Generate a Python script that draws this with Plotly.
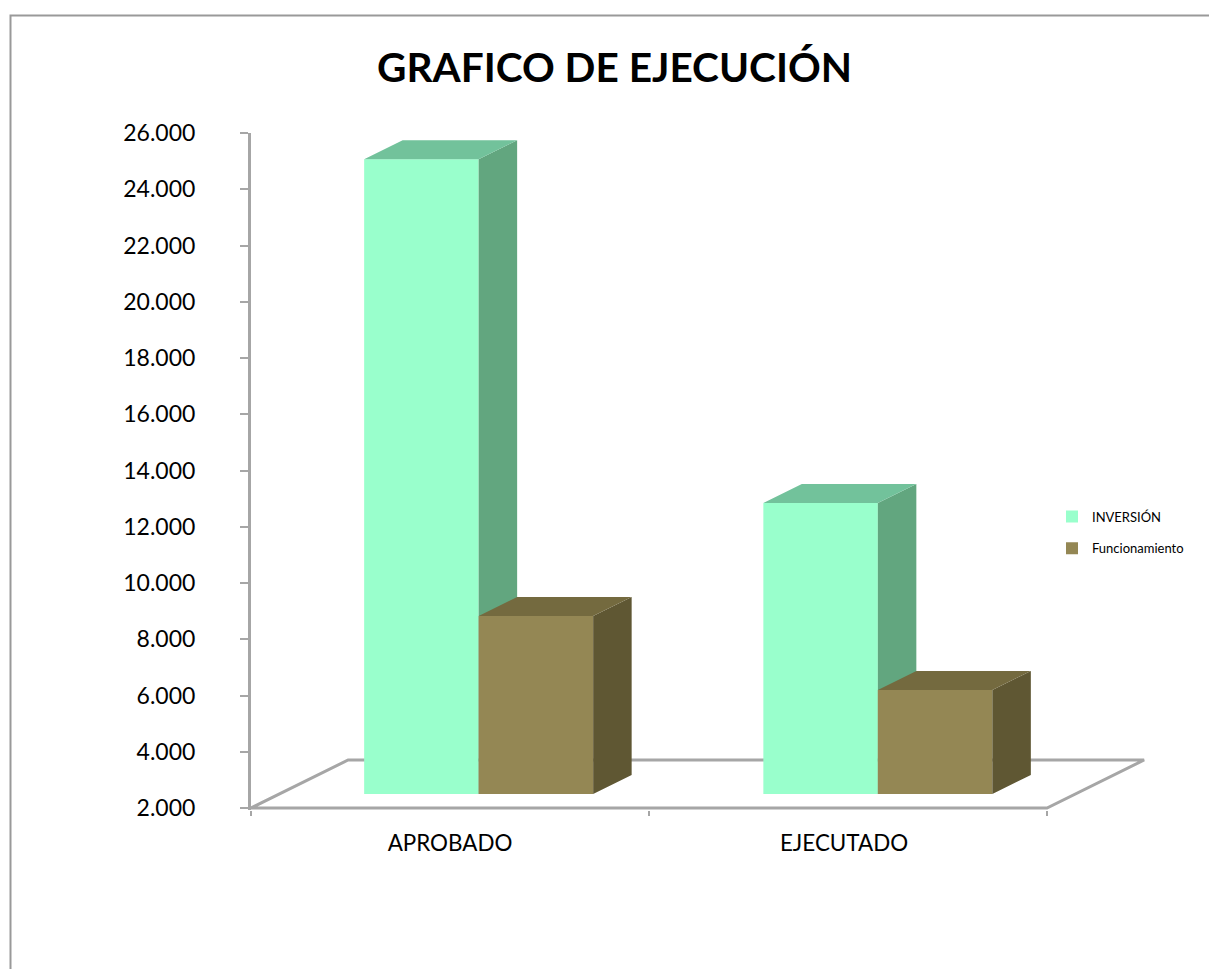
import plotly.graph_objects as go

# --- data ---
CATEGORIES = ["APROBADO", "EJECUTADO"]
BAR_CENTERS = [0.5, 1.503]
LABEL_POSITIONS = [0.5, 1.49]
INVERSION = [24570, 12346]
FUNCIONAMIENTO = [8329, 5698]
Y_TICKS = list(range(2000, 26001, 2000))
TITLE = "GRAFICO DE EJECUCIÓN"

# --- geometry in axis units ---
W, H = 1209, 969
AX_L, AX_R, AX_T, AX_B = 251, 1150, 133, 808
PX_PER_CAT = 398
Y_MIN, Y_MAX = 2000, 26000
Y_PX = (AX_B - AX_T) / (Y_MAX - Y_MIN)
Y_LOW = Y_MIN - 80  # keeps the floor's front edge from being clipped by the plot area
BASE = 2498
BAR_W = 0.2877
SHIFT = 0.072
DX, DY = 0.0967, 676
FLOOR_DX, FLOOR_DY = 0.244, 1707
GRAY = "#A6A6A6"
FONT = "Lato"


def faces(xs, values, left_offset):
    side_x, side_y, top_x, top_y = [], [], [], []
    for c, v in zip(xs, values):
        xl = c + left_offset
        xr = xl + BAR_W
        top = BASE + (v - Y_MIN)
        side_x += [xr, xr + DX, xr + DX, xr, xr, None]
        side_y += [BASE, BASE + DY, top + DY, top, BASE, None]
        top_x += [xl, xr, xr + DX, xl + DX, xl, None]
        top_y += [top, top, top + DY, top + DY, top, None]
    return side_x, side_y, top_x, top_y


def add_series(fig, name, values, left_offset, front, side, top, xa, ya):
    fig.add_trace(go.Bar(
        x=BAR_CENTERS, y=[v - Y_MIN for v in values], base=BASE, name=name,
        width=BAR_W, offset=left_offset, marker=dict(color=front, line_width=0),
        xaxis=xa, yaxis=ya, legendgroup=name, hovertext=CATEGORIES,
    ))
    sx, sy, tx, ty = faces(BAR_CENTERS, values, left_offset)
    for px, py, col in ((sx, sy, side), (tx, ty, top)):
        fig.add_trace(go.Scatter(
            x=px, y=py, mode="lines", fill="toself", fillcolor=col,
            line=dict(width=0), showlegend=False, hoverinfo="skip",
            xaxis=xa, yaxis=ya, legendgroup=name,
        ))


fig = go.Figure()
add_series(fig, "INVERSIÓN", INVERSION, SHIFT - BAR_W, "#99FFCC", "#62A67F", "#72C29B", "x", "y")
add_series(fig, "Funcionamiento", FUNCIONAMIENTO, SHIFT, "#948754", "#5F5733", "#746A3F", "x2", "y2")

x_range = [0, (AX_R - AX_L) / PX_PER_CAT]
x_dom = [AX_L / W, AX_R / W]
y_dom = [1 - (AX_B + (Y_MIN - Y_LOW) * Y_PX) / H, 1 - AX_T / H]
y_range = [Y_LOW, Y_MAX]

floor_path = (
    f"M 0 {Y_MIN} L {FLOOR_DX} {Y_MIN + FLOOR_DY} "
    f"L {2 + FLOOR_DX} {Y_MIN + FLOOR_DY} L 2 {Y_MIN} Z"
)

fig.update_layout(
    width=W, height=H, autosize=False,
    margin=dict(l=0, r=0, t=0, b=0, pad=0, autoexpand=False),
    paper_bgcolor="white", plot_bgcolor="rgba(0,0,0,0)",
    separators=",.",
    barmode="overlay",
    font=dict(family=FONT, color="black"),
    showlegend=True,
    legend=dict(
        x=1052 / W, y=1 - 532.5 / H, xanchor="left", yanchor="middle",
        font=dict(size=13, family=FONT), bgcolor="rgba(0,0,0,0)",
        tracegroupgap=12, itemclick=False, itemdoubleclick=False,
    ),
    xaxis=dict(
        domain=x_dom, range=x_range, showgrid=False, zeroline=False, showline=False,
        tickmode="array", tickvals=LABEL_POSITIONS, ticktext=CATEGORIES, ticks="",
        tickfont=dict(size=22.4, family=FONT), ticklabelstandoff=17,
        minor=dict(tickmode="array", tickvals=[0, 1, 2], ticks="outside", ticklen=5, tickwidth=2, tickcolor=GRAY),
    ),
    yaxis=dict(
        domain=y_dom, range=y_range, showgrid=False, zeroline=False,
        showline=True, linecolor=GRAY, linewidth=3,
        tickmode="array", tickvals=Y_TICKS, tickformat=",d",
        ticks="outside", ticklen=8, tickwidth=2, tickcolor=GRAY,
        tickfont=dict(size=23, family=FONT), ticklabelstandoff=40,
    ),
    xaxis2=dict(domain=x_dom, range=x_range, overlaying="x", visible=False, anchor="y2"),
    yaxis2=dict(domain=y_dom, range=y_range, overlaying="y", visible=False, anchor="x2"),
    shapes=[
        dict(type="path", path=floor_path, xref="x", yref="y", layer="below",
             line=dict(color=GRAY, width=3), fillcolor="rgba(0,0,0,0)"),
        dict(type="rect", xref="paper", yref="paper", x0=10.5 / W, x1=1.02, y0=-0.02, y1=1 - 15.5 / H,
             layer="below", line=dict(color="#999999", width=2), fillcolor="rgba(0,0,0,0)"),
    ],
    annotations=[
        dict(text=f"<b>{TITLE}</b>", xref="paper", yref="paper", x=614 / W, y=1 - 66 / H,
             xanchor="center", yanchor="middle", showarrow=False,
             font=dict(size=40.6, family=FONT, color="black")),
    ],
)

fig.write_html(
    "out.html",
    config={"displayModeBar": False},
    post_script="document.body.style.margin='0';document.documentElement.style.overflow='hidden';",
)
